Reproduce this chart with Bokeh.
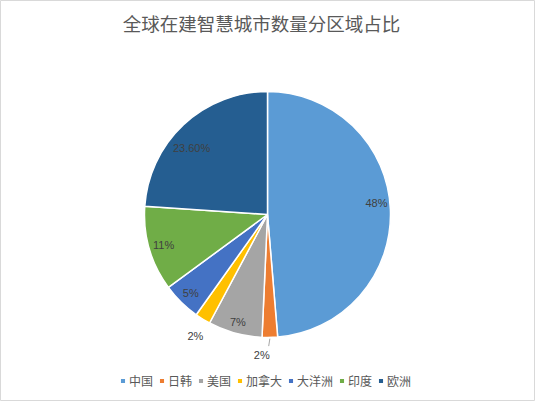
import math
import numpy as np
from bokeh.plotting import figure
from bokeh.models import Range1d, ColumnDataSource, Legend, LegendItem
from bokeh.core.properties import value
from bokeh.embed import file_html
from bokeh.resources import INLINE

title = "全球在建智慧城市数量分区域占比"
regions = ["中国", "日韩", "美国", "加拿大", "大洋洲", "印度", "欧洲"]
shares = [48, 2, 7, 2, 5, 11, 23.6]
labels = ["48%", "2%", "7%", "2%", "5%", "11%", "23.60%"]
colors = ["#5B9BD5", "#ED7D31", "#A5A5A5", "#FFC000", "#4472C4", "#70AD47", "#255E91"]

W, H = 535, 401
# pixel-like data coordinates: x = screen x, y = -screen y
p = figure(width=W, height=H, output_backend="svg", toolbar_location=None,
           x_range=Range1d(0, W), y_range=Range1d(-H, 0),
           min_border=0)
p.axis.visible = False
p.grid.visible = False
p.outline_line_color = "#D9D9D9"
p.background_fill_color = "white"
p.border_fill_color = "white"

cx, cy, R = 267, -214, 123
vals = np.array(shares, dtype=float)
frac = vals / vals.sum()
cum = np.concatenate([[0], np.cumsum(frac)])
start = np.pi / 2 - cum[:-1] * 2 * np.pi
end = np.pi / 2 - cum[1:] * 2 * np.pi
mid = (start + end) / 2

src = ColumnDataSource(dict(region=regions, start=start, end=end, color=colors))
wr = p.wedge(x=cx, y=cy, radius=R, start_angle="start", end_angle="end",
             direction="clock", fill_color="color", line_color="white",
             line_width=1.5, source=src)

# data label placement (fraction of radius) per slice
lab_r = [0.89, 1.14, 0.91, 1.15, 0.89, 0.88, 0.82]
lab_da = [0.06, -0.06, 0.0, 0.02, 0.0, 0.0, 0.1]
lx = [cx + R * f * math.cos(a + d) for f, a, d in zip(lab_r, mid, lab_da)]
ly = [cy + R * f * math.sin(a + d) for f, a, d in zip(lab_r, mid, lab_da)]
p.text(x=lx, y=ly, text=labels, text_align="center", text_baseline="middle",
       text_font=value("Liberation Sans"), text_font_size="11px",
       text_color="#404040")

# leader line for 日韩
a = mid[1]
p.segment(x0=[cx + R * 1.01 * math.cos(a)], y0=[cy + R * 1.01 * math.sin(a)],
          x1=[cx + R * 1.07 * math.cos(a - 0.01)], y1=[cy + R * 1.07 * math.sin(a - 0.01)],
          line_color="#A6A6A6", line_width=1)

# title
p.text(x=[261], y=[-22], text=[title], text_align="center", text_baseline="middle",
       text_font=value("Noto Sans CJK SC"), text_font_size="18.5px",
       text_color="#595959")

items = [LegendItem(label=r, renderers=[wr], index=i) for i, r in enumerate(regions)]
legend = Legend(items=items, orientation="horizontal", location=(119, 12),
                glyph_width=7, glyph_height=7, label_standoff=3, spacing=5,
                padding=0, margin=0, label_height=14,
                label_text_font="Noto Sans CJK SC", label_text_font_size="12px",
                label_text_color="#595959", border_line_color=None,
                background_fill_alpha=0)
p.add_layout(legend, "center")

open("out.html", "w").write(file_html(p, INLINE))
